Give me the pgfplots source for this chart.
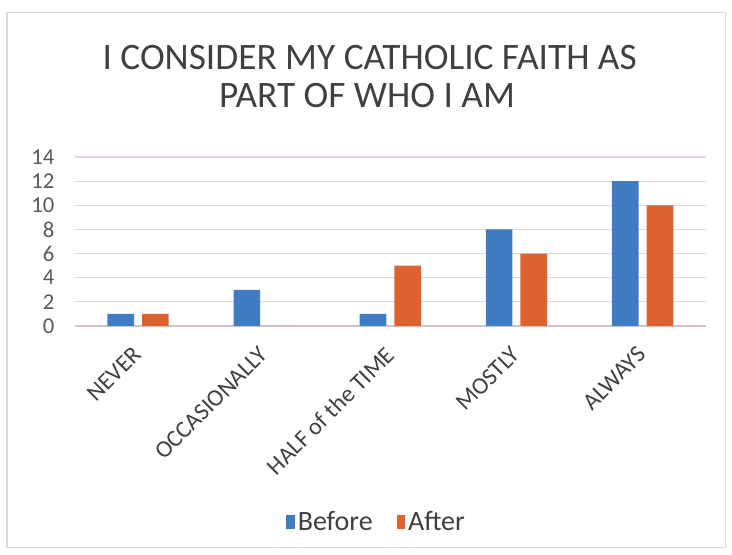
\documentclass[border=0pt]{standalone}
\usepackage{pgfplots}
\pgfplotsset{compat=1.18}
\usepackage{fontspec}
\setmainfont{Carlito}
\definecolor{cblue}{HTML}{3F7CC4}
\definecolor{corange}{HTML}{DD6230}
\definecolor{gridc}{HTML}{E2D4E2}
\definecolor{txt}{HTML}{404040}
\definecolor{tick}{HTML}{595959}
\begin{document}
\begin{tikzpicture}
\begin{axis}[
  at={(0,0)}, anchor=south west,
  scale only axis, width=473pt, height=126.75pt,
  ybar, bar width=20pt,
  xmin=-0.5, xmax=4.5, ymin=0, ymax=14,
  ytick={0,2,...,14},
  xtick={0,1,2,3,4},
  xticklabels={NEVER,OCCASIONALLY,HALF of the TIME,MOSTLY,ALWAYS},
  xticklabel style={xshift=-4.7pt, yshift=-9.4pt, rotate=45, anchor=north east, font=\fontsize{18pt}{20pt}\selectfont, text=txt},
  yticklabel style={font=\fontsize{17pt}{19pt}\selectfont, text=tick, xshift=-12pt},
  /pgf/number format/assume math mode=true,
  major tick length=0pt,
  ymajorgrids, grid style={gridc, line width=0.8pt},
  axis x line*=bottom, axis y line*=left,
  y axis line style={draw=none},
  x axis line style={gridc!80!gray, line width=0.8pt},
  legend style={at={(226.5pt,-147pt)}, anchor=center, draw=none, legend columns=2,
    font=\fontsize{21pt}{23pt}\selectfont, text=txt,
    /tikz/every odd column/.append style={column sep=0pt},
    /tikz/every even column/.append style={column sep=16pt}},
  legend image code/.code={\fill[#1] (0pt,-5pt) rectangle (6.5pt,5pt);},
]
\addplot[fill=cblue, draw=none, bar shift=-13pt] coordinates {(0,1) (1,3) (2,1) (3,8) (4,12)};
\addplot[fill=corange, draw=none, bar shift=13pt] coordinates {(0,1) (1,0) (2,5) (3,6) (4,10)};
\legend{Before, After}
\end{axis}
\node[anchor=base, text=txt, font=\fontsize{28pt}{30pt}\selectfont] at (221pt,192pt) {I CONSIDER MY CATHOLIC FAITH AS};
\node[anchor=base, text=txt, font=\fontsize{28pt}{30pt}\selectfont] at (219pt,164pt) {PART OF WHO I AM};
\draw[gray!30, line width=0.8pt] (-51pt,-166pt) rectangle (488pt,235pt);
\pgfresetboundingbox
\path[use as bounding box] (-56.25pt,-171.75pt) rectangle (492.75pt,244.5pt);
\end{tikzpicture}
\end{document}
